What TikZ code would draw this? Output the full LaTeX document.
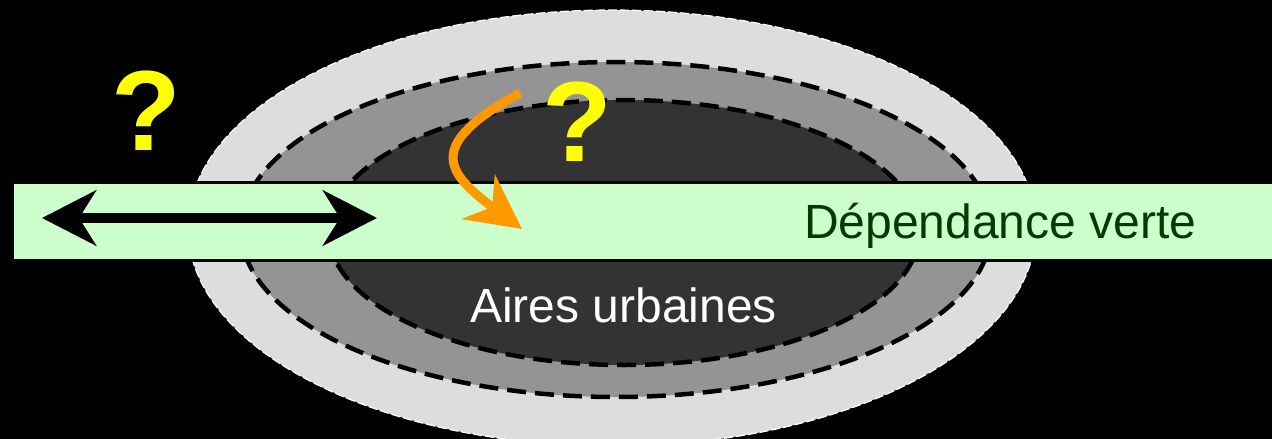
\documentclass[tikz,border=0pt]{standalone}
\usepackage{fontspec}
\setmainfont{Liberation Sans}
\usetikzlibrary{arrows.meta}
\definecolor{zoneA}{HTML}{DDDDDD}
\definecolor{zoneB}{HTML}{949494}
\definecolor{zoneC}{HTML}{333333}
\definecolor{bandfill}{HTML}{CCFFCC}
\definecolor{bandtext}{HTML}{003C00}
\definecolor{flow}{HTML}{FF9900}
\definecolor{qmark}{HTML}{FFFF00}
\tikzset{
  ring/.style={line width=4.5pt, draw=black, dash pattern=on 19pt off 9pt},
  outerring/.style={line width=1.2pt, draw=white, dash pattern=on 9pt off 3pt},
  band/.style={fill=bandfill, draw=black, line width=3pt},
  bighead/.tip={Stealth[length=54pt, width=55pt, inset=17pt]},
  label/.style={inner sep=0pt, font=\fontsize{48}{48}\selectfont},
  query/.style={inner sep=0pt, text=qmark, font=\fontsize{114}{114}\selectfont\bfseries}
}
\begin{document}
\begin{tikzpicture}[x=1pt, y=-1pt]
  \fill[black] (0,0) rectangle (1272,439);
  \useasboundingbox (0,0) rectangle (1272,439);
  \clip (0,0) rectangle (1272,439);

  % nested zones
  \path[fill=zoneA, outerring] (612,228) ellipse [x radius=424, y radius=218];
  \path[fill=zoneB, ring] (616,229.5) ellipse [x radius=375, y radius=167.5];
  \path[fill=zoneC, ring] (624,232.5) ellipse [x radius=295, y radius=132.5];

  % green band
  \draw[band] (12,182) rectangle (1290,260);

  % two-way arrow along the band
  \coordinate (left) at (42,218);
  \coordinate (right) at (377,218);
  \draw[line width=10pt, black, bighead-bighead] (left) -- (right);

  % curved orange arrow
  \coordinate (fstart) at (520,93);
  \coordinate (fend) at (522,229);
  \draw[line width=9pt, flow, -bighead] (fstart) .. controls (425,145) and (445,172) .. (fend);

  % labels
  \node[label, text=bandtext, anchor=base west] (dep) at (804,238) {Dépendance verte};
  \node[label, text=white, anchor=base] (aires) at (623.5,322) {Aires urbaines};
  \node[query, anchor=base] (q1) at (146,150) {?};
  \node[query, anchor=base] (q2) at (577,161) {?};
\end{tikzpicture}
\end{document}
